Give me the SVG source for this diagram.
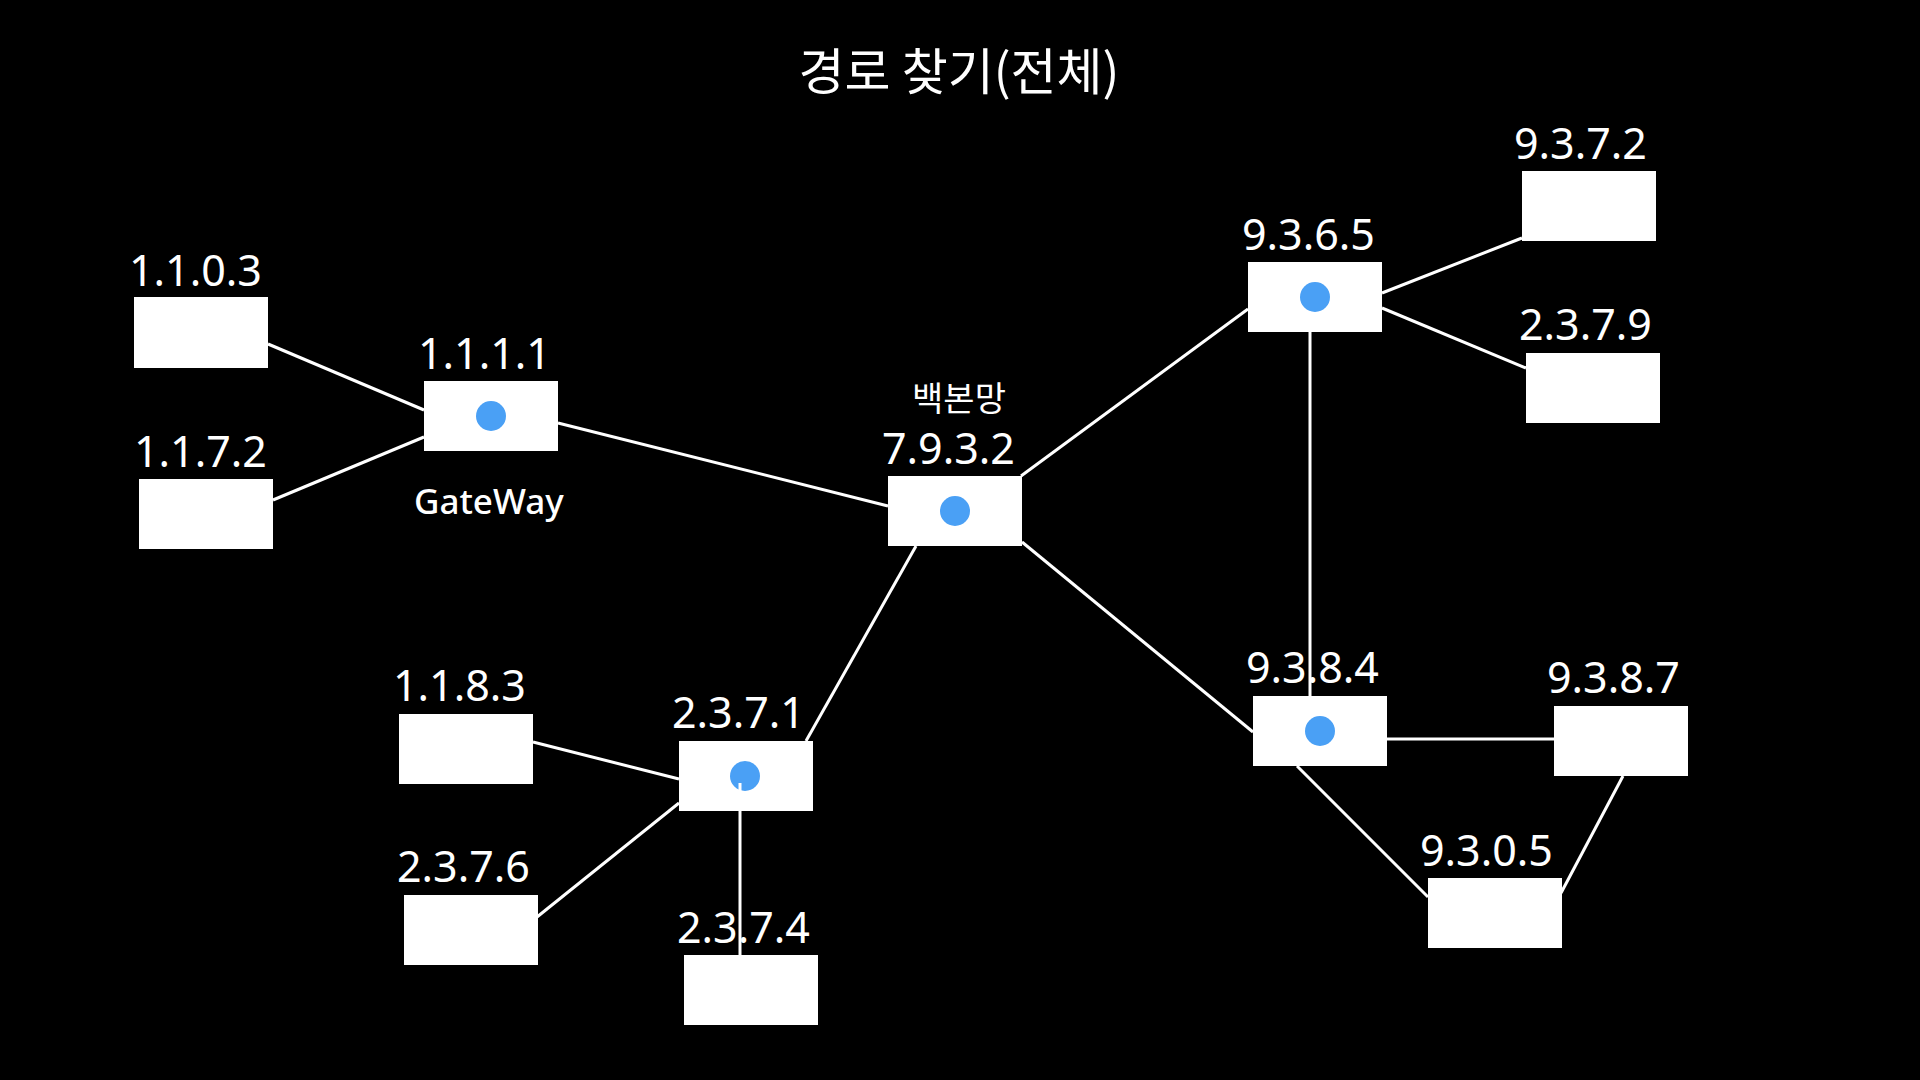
<svg xmlns="http://www.w3.org/2000/svg" width="1920" height="1080" viewBox="0 0 1920 1080">
<style>
.box{fill:#ffffff}
.dot{fill:#4aa0f5}
.lbl{font-family:"Noto Sans","Open Sans","Liberation Sans",sans-serif;font-size:43px;fill:#ffffff}
.kr{font-family:"Noto Sans CJK KR","Noto Sans",sans-serif;fill:#ffffff}
.sub{font-family:"Noto Sans","Open Sans","Liberation Sans",sans-serif;font-size:35px;font-weight:500;fill:#ffffff}
.edge{stroke:#ffffff;stroke-width:3;fill:none}
</style>
<rect x="0" y="0" width="1920" height="1080" fill="#000000"/>
<text class="kr" x="959" y="90" font-size="50" text-anchor="middle">경로 찾기(전체)</text>

<g id="n1103"><rect class="box" x="134" y="297" width="134" height="71"/><text class="lbl" x="129" y="286">1.1.0.3</text></g>
<g id="n1172"><rect class="box" x="139" y="479" width="134" height="70"/><text class="lbl" x="134" y="467">1.1.7.2</text></g>
<g id="n1111"><rect class="box" x="424" y="381" width="134" height="70"/><circle class="dot" cx="491" cy="416" r="15"/><text class="lbl" x="418" y="369">1.1.1.1</text><text class="sub" x="414" y="514">GateWay</text></g>
<g id="n7932"><rect class="box" x="888" y="476" width="134" height="70"/><circle class="dot" cx="955" cy="511" r="15"/><text class="kr" x="959" y="411" font-size="34" text-anchor="middle">백본망</text><text class="lbl" x="882" y="464">7.9.3.2</text></g>
<g id="n9365"><rect class="box" x="1248" y="262" width="134" height="70"/><circle class="dot" cx="1315" cy="297" r="15"/><text class="lbl" x="1242" y="250">9.3.6.5</text></g>
<g id="n9372"><rect class="box" x="1522" y="171" width="134" height="70"/><text class="lbl" x="1514" y="159">9.3.7.2</text></g>
<g id="n2379"><rect class="box" x="1526" y="353" width="134" height="70"/><text class="lbl" x="1519" y="340">2.3.7.9</text></g>
<g id="n9384"><rect class="box" x="1253" y="696" width="134" height="70"/><circle class="dot" cx="1320" cy="731" r="15"/><text class="lbl" x="1246" y="683">9.3.8.4</text></g>
<g id="n9387"><rect class="box" x="1554" y="706" width="134" height="70"/><text class="lbl" x="1547" y="693">9.3.8.7</text></g>
<g id="n9305"><rect class="box" x="1428" y="878" width="134" height="70"/><text class="lbl" x="1420" y="866">9.3.0.5</text></g>
<g id="n1183"><rect class="box" x="399" y="714" width="134" height="70"/><text class="lbl" x="393" y="701">1.1.8.3</text></g>
<g id="n2371"><rect class="box" x="679" y="741" width="134" height="70"/><circle class="dot" cx="745" cy="776" r="15"/><text class="lbl" x="672" y="728">2.3.7.1</text></g>
<g id="n2376"><rect class="box" x="404" y="895" width="134" height="70"/><text class="lbl" x="397" y="882">2.3.7.6</text></g>
<g id="n2374"><rect class="box" x="684" y="955" width="134" height="70"/><text class="lbl" x="677" y="943">2.3.7.4</text></g>

<g id="connectors">
<line class="edge" x1="268" y1="344" x2="424" y2="410"/>
<line class="edge" x1="273" y1="500" x2="424" y2="437"/>
<line class="edge" x1="558" y1="423" x2="888" y2="506"/>
<line class="edge" x1="1021" y1="476" x2="1248" y2="309"/>
<line class="edge" x1="1022" y1="542" x2="1253" y2="732"/>
<line class="edge" x1="806" y1="741" x2="916" y2="546"/>
<line class="edge" x1="1382" y1="293" x2="1522" y2="238"/>
<line class="edge" x1="1382" y1="308" x2="1526" y2="368"/>
<line class="edge" x1="1310" y1="332" x2="1310" y2="696"/>
<line class="edge" x1="1387" y1="739" x2="1554" y2="739"/>
<line class="edge" x1="1297" y1="766" x2="1428" y2="897"/>
<line class="edge" x1="1623" y1="776" x2="1561" y2="893"/>
<line class="edge" x1="533" y1="742" x2="679" y2="779"/>
<line class="edge" x1="537" y1="917" x2="679" y2="803"/>
<line class="edge" x1="740" y1="783" x2="740" y2="955"/>
</g>
</svg>
